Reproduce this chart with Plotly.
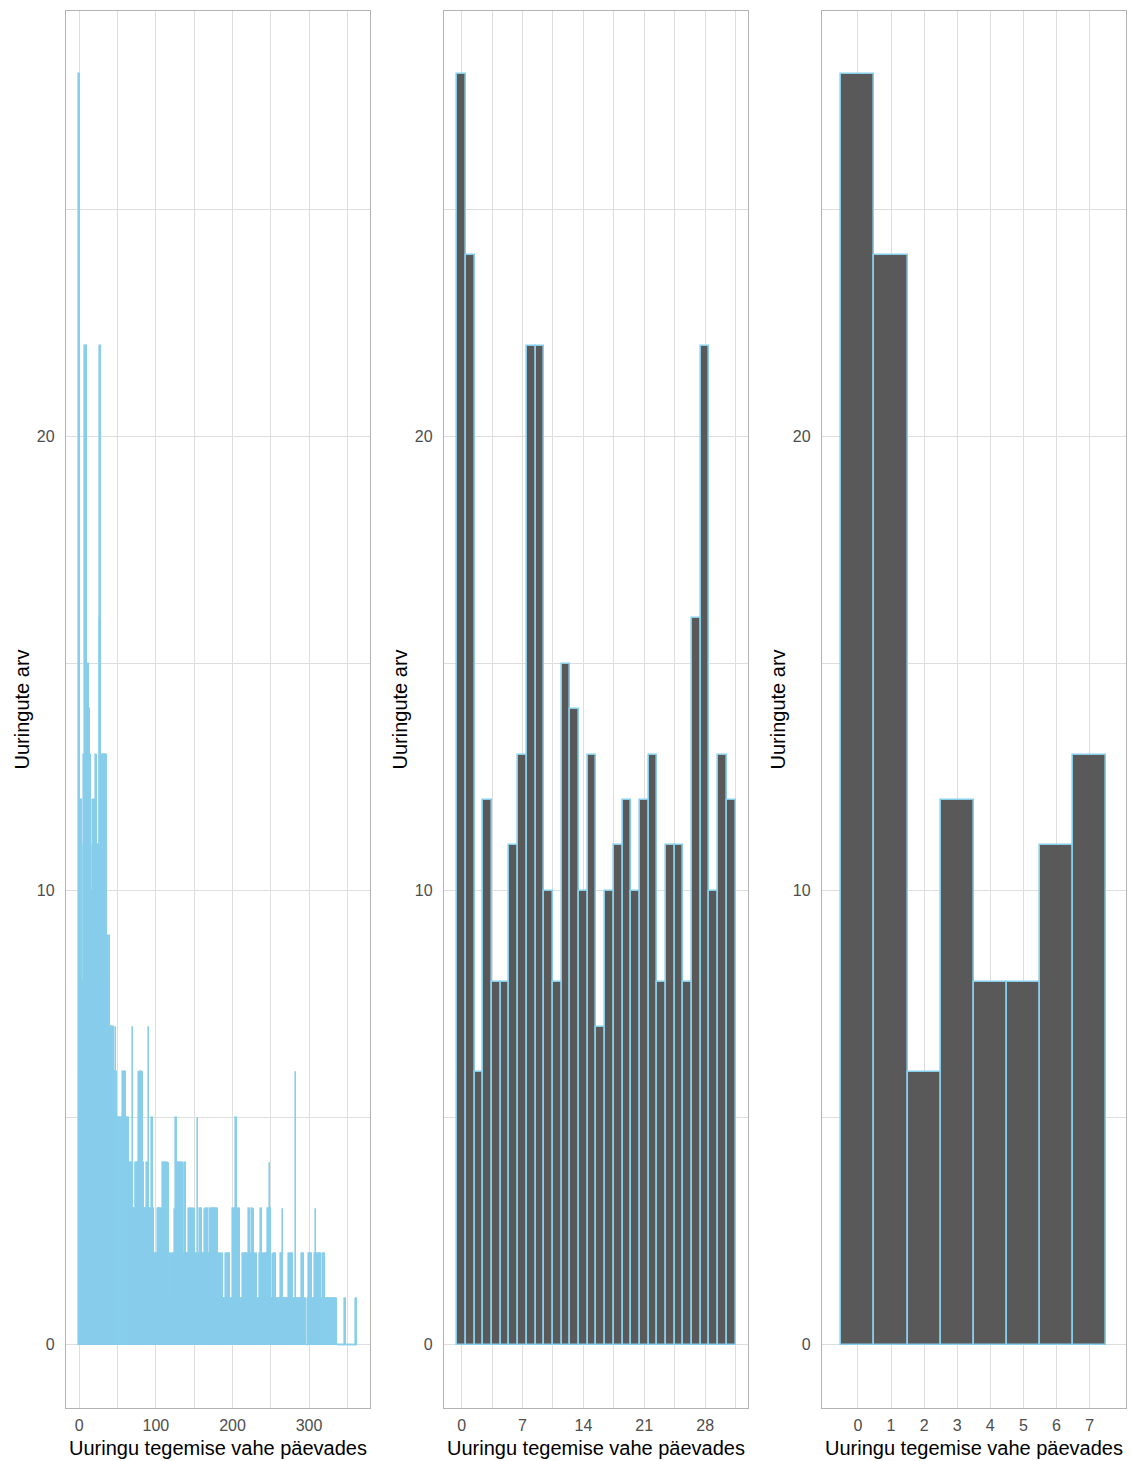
import plotly.graph_objects as go

# Number of surveys per gap length (days between surveys), one value per day 0..362
daily_counts = [
    # 0-31
    28, 24, 6, 12, 8, 8, 11, 13, 22, 22, 10, 8, 15, 14, 10, 13,
    7, 10, 11, 12, 10, 12, 13, 8, 11, 11, 8, 16, 22, 10, 13, 12,
    # 32-66
    13, 11, 13, 13, 11, 9, 8, 9, 9, 7, 7, 6, 6, 7, 6, 6, 7, 6,
    5, 5, 5, 5, 4, 5, 5, 4, 6, 4, 6, 5, 5, 4, 5, 5, 4,
    # 67-99
    4, 3, 4, 7, 3, 3, 3, 4, 4, 3, 4, 6, 4, 6, 6, 4, 6, 4, 3, 3,
    2, 3, 4, 3, 7, 3, 3, 2, 3, 5, 3, 2, 2,
    # 100-129
    1, 2, 2, 3, 2, 3, 3, 2, 3, 3,
    4, 2, 2, 4, 2, 4, 2, 4, 2, 1,
    2, 2, 1, 2, 2, 3, 2, 5, 4, 2,
    # 130-159
    4, 2, 4, 2, 2, 4, 2, 1, 4, 4,
    2, 2, 1, 2, 3, 2, 3, 1, 2, 3,
    2, 3, 2, 2, 2, 5, 2, 1, 3, 2,
    # 160-189
    3, 2, 2, 1, 3, 2, 3, 3, 2, 1,
    2, 3, 3, 2, 3, 3, 1, 3, 3, 2,
    3, 2, 2, 1, 2, 1, 1, 2, 1, 1,
    # 190-229
    1, 1, 2, 1, 1, 2, 2, 1, 1, 1,
    1, 3, 3, 1, 3, 5, 3, 3, 1, 3,
    1, 1, 1, 1, 2, 2, 1, 2, 2, 2,
    1, 2, 3, 2, 2, 1, 3, 2, 3, 2,
    # 230-269
    1, 2, 2, 1, 1, 1, 1, 2, 3, 1,
    2, 2, 1, 2, 2, 1, 2, 3, 3, 4,
    3, 1, 1, 2, 1, 2, 2, 1, 1, 1,
    1, 1, 1, 1, 2, 2, 3, 1, 1, 1,
    # 270-309
    1, 1, 1, 1, 2, 2, 1, 2, 2, 1,
    1, 1, 1, 6, 1, 1, 1, 1, 1, 1,
    1, 2, 2, 2, 1, 1, 1, 0, 0, 1,
    1, 2, 2, 2, 1, 1, 1, 1, 2, 3,
    # 310-362
    2, 2, 1, 2, 2, 2, 1, 1, 1, 2,
    2, 1, 1, 1, 1, 1, 1, 1, 1, 1,
    1, 1, 1, 1, 1, 1, 1, 0, 0, 0,
    0, 0, 0, 0, 0, 0, 0, 0, 1, 0,
    0, 0, 0, 0, 0, 0, 0, 0, 0, 0,
    0, 0, 1,
]
gap_days = list(range(len(daily_counts)))

# Zoomed views: first month and first week
month_days = gap_days[:32]
month_counts = daily_counts[:32]
week_days = gap_days[:8]
week_counts = daily_counts[:8]

# Axis breaks per panel
y_ticks = [0, 10, 20]
y_minor = [5, 15, 25]
full_ticks = [0, 100, 200, 300]
full_minor = [50, 150, 250, 350]
month_ticks = [0, 7, 14, 21, 28]
month_minor = [3.5, 10.5, 17.5, 24.5, 31.5]
week_ticks = [0, 1, 2, 3, 4, 5, 6, 7]

x_title = "Uuringu tegemise vahe päevades"
y_title = "Uuringute arv"

SKY = "#87CEEB"
DARK = "#595959"
GRID = "#DEDEDE"
BORDER = "#B3B3B3"
TICK_TXT = "#4D4D4D"
FONT = "Liberation Sans, Arial, Helvetica, sans-serif"

fig = go.Figure()

# Full range histogram (light blue fill and outline)
fig.add_trace(go.Bar(
    x=gap_days, y=daily_counts, width=1,
    marker=dict(color=SKY, line=dict(color=SKY, width=1.6)),
    xaxis="x", yaxis="y", hoverinfo="skip",
))
# Empty bins are outlined along the baseline
zero_x, zero_y = [], []
for d, c in zip(gap_days, daily_counts):
    if c == 0:
        zero_x += [d - 0.5, d + 0.5, None]
        zero_y += [0, 0, None]
fig.add_trace(go.Scatter(
    x=zero_x, y=zero_y, mode="lines",
    line=dict(color=SKY, width=1.3),
    xaxis="x", yaxis="y", hoverinfo="skip",
))

# First month
fig.add_trace(go.Bar(
    x=month_days, y=month_counts, width=1,
    marker=dict(color=DARK, line=dict(color=SKY, width=1.6)),
    xaxis="x2", yaxis="y2", hoverinfo="skip",
))

# First week
fig.add_trace(go.Bar(
    x=week_days, y=week_counts, width=1,
    marker=dict(color=DARK, line=dict(color=SKY, width=1.6)),
    xaxis="x3", yaxis="y3", hoverinfo="skip",
))

W, H = 1131, 1461
ML, MR, MT, MB = 66, 5, 11, 53
plot_w = W - ML - MR


def dom(px0, px1):
    return [(px0 - ML) / plot_w, (px1 - ML) / plot_w]


common_axis = dict(
    showline=True, mirror=True, linecolor=BORDER, linewidth=1.3,
    showgrid=True, gridcolor=GRID, gridwidth=1,
    zeroline=False,
    ticks="outside", tickcolor="rgba(0,0,0,0)",
    tickfont=dict(family=FONT, size=16, color=TICK_TXT),
)


def xaxis(domain, rng, ticks, minor, anchor):
    ax = dict(common_axis, domain=domain, range=rng, tickmode="array",
              tickvals=ticks, ticklen=3, anchor=anchor)
    if minor:
        ax["minor"] = dict(tickmode="array", tickvals=minor, showgrid=True,
                           gridcolor=GRID, gridwidth=0.8)
    return ax


def yaxis(anchor):
    return dict(common_axis, domain=[0, 1], range=[-1.39, 29.38],
                tickmode="array", tickvals=y_ticks, ticklen=7, anchor=anchor,
                minor=dict(tickmode="array", tickvals=y_minor, showgrid=True,
                           gridcolor=GRID, gridwidth=0.8))


fig.update_layout(
    width=W, height=H,
    margin=dict(l=ML, r=MR, t=MT, b=MB, pad=0),
    paper_bgcolor="white", plot_bgcolor="white",
    showlegend=False, bargap=0, barmode="overlay",
    font=dict(family=FONT),
    xaxis=xaxis(dom(66, 370), [-17.4, 379.6], full_ticks, full_minor, "y"),
    xaxis2=xaxis(dom(444, 748), [-2.03, 32.93], month_ticks, month_minor, "y2"),
    xaxis3=xaxis(dom(822, 1126), [-1.085, 8.10], week_ticks, None, "y3"),
    yaxis=yaxis("x"),
    yaxis2=yaxis("x2"),
    yaxis3=yaxis("x3"),
)

annotations = []
for xa, ya in [("x", "y"), ("x2", "y2"), ("x3", "y3")]:
    annotations.append(dict(
        text=x_title, xref=f"{xa} domain", yref=f"{ya} domain",
        x=0.5, y=0, xanchor="center", yanchor="middle", yshift=-40,
        showarrow=False, font=dict(family=FONT, size=20, color="black"),
    ))
    annotations.append(dict(
        text=y_title, xref=f"{xa} domain", yref=f"{ya} domain",
        x=0, y=0.5, xanchor="center", yanchor="middle", xshift=-45,
        textangle=-90, showarrow=False,
        font=dict(family=FONT, size=20, color="black"),
    ))
fig.update_layout(annotations=annotations)

fig.write_html("out.html")
